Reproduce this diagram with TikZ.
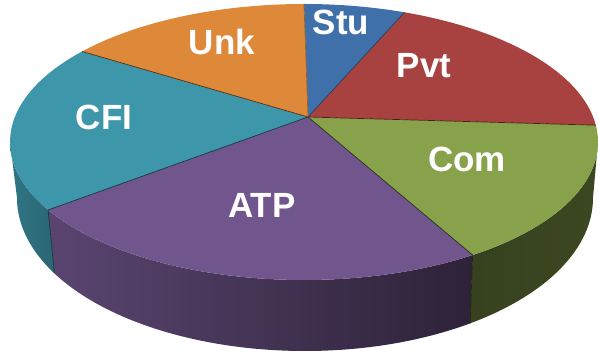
\documentclass[tikz,border=0pt]{standalone}
\usepackage{fontspec}
\setmainfont{Liberation Sans}
\definecolor{stublue}{RGB}{64,112,170}
\definecolor{pvtred}{RGB}{168,66,64}
\definecolor{comgreen}{RGB}{136,162,76}
\definecolor{atppurple}{RGB}{112,86,140}
\definecolor{cfiteal}{RGB}{62,150,170}
\definecolor{unkorange}{RGB}{222,136,58}

\begin{document}
\begin{tikzpicture}[x=1pt, y=1pt,
  rim/.style={x radius=294, y radius=138},
  floor/.style={x radius=288, y radius=153},
  edge/.style={line width=0.7pt},
  lbl/.style={text=white, font=\fontsize{35}{40}\selectfont\bfseries, anchor=base, inner sep=0pt}]
\useasboundingbox (0,0) rectangle (598,353);
\coordinate (ctr) at (304,211);
\coordinate (low) at (305,155);
\coordinate (apex) at (308,236);

% Sides
\shade[left color=cfiteal!78!black, right color=cfiteal!68!black]
  ([shift={(ctr)}]180:294 and 138) arc[rim, start angle=180, end angle=209.5]
  -- ([shift={(low)}]209.5:288 and 153) arc[floor, start angle=209.5, end angle=180] -- cycle;
\shade[left color=atppurple!80!black, right color=atppurple!40!black]
  ([shift={(ctr)}]209.5:294 and 138) arc[rim, start angle=209.5, end angle=305]
  -- ([shift={(low)}]305:288 and 153) arc[floor, start angle=305, end angle=209.5] -- cycle;
\shade[left color=comgreen!40!black, right color=comgreen!44!black]
  ([shift={(ctr)}]305:294 and 138) arc[rim, start angle=305, end angle=360]
  -- ([shift={(low)}]360:288 and 153) arc[floor, start angle=360, end angle=305] -- cycle;
\draw[edge, cfiteal!35!black] ([shift={(ctr)}]209.5:294 and 138) -- ([shift={(low)}]209.5:288 and 153);
\draw[edge, comgreen!25!black] ([shift={(ctr)}]305:294 and 138) -- ([shift={(low)}]305:288 and 153);

% Top
\fill[stublue] (apex) -- ([shift={(ctr)}]70:294 and 138) arc[rim, start angle=70, end angle=90] -- cycle;
\fill[pvtred] (apex) -- ([shift={(ctr)}]7:294 and 138) arc[rim, start angle=7, end angle=70] -- cycle;
\fill[comgreen] (apex) -- ([shift={(ctr)}]-55:294 and 138) arc[rim, start angle=-55, end angle=7] -- cycle;
\fill[atppurple] (apex) -- ([shift={(ctr)}]209.5:294 and 138) arc[rim, start angle=209.5, end angle=305] -- cycle;
\fill[cfiteal] (apex) -- ([shift={(ctr)}]139:294 and 138) arc[rim, start angle=139, end angle=209.5] -- cycle;
\fill[unkorange] (apex) -- ([shift={(ctr)}]90:294 and 138) arc[rim, start angle=90, end angle=139] -- cycle;

% Slice edges
\draw[edge, stublue!55!black] (apex) -- ([shift={(ctr)}]70:294 and 138);
\draw[edge, pvtred!45!black] (apex) -- ([shift={(ctr)}]7:294 and 138);
\draw[edge, comgreen!30!black] (apex) -- ([shift={(ctr)}]-55:294 and 138);
\draw[edge, cfiteal!35!black] (apex) -- ([shift={(ctr)}]209.5:294 and 138);
\draw[edge, unkorange!35!black] (apex) -- ([shift={(ctr)}]139:294 and 138);
\draw[edge, unkorange!70!black] (apex) -- ([shift={(ctr)}]90:294 and 138);

% Labels
\node[lbl] (stu) at (341,318) {Stu};
\node[lbl] (pvt) at (424,275) {Pvt};
\node[lbl] (com) at (467,181) {Com};
\node[lbl] (atp) at (262,135) {ATP};
\node[lbl] (cfi) at (104,223) {CFI};
\node[lbl] (unk) at (222,298) {Unk};
\end{tikzpicture}
\end{document}
